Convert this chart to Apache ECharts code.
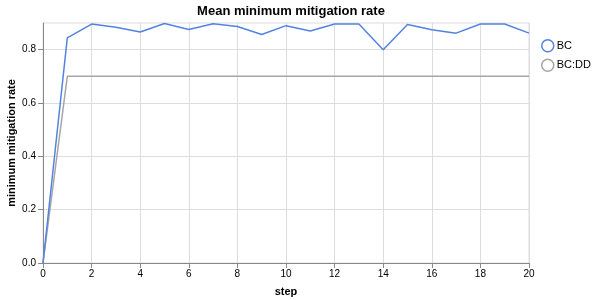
<!DOCTYPE html>
<html><head><meta charset="utf-8">
<script src="https://cdn.jsdelivr.net/npm/echarts@6/dist/echarts.min.js"></script>
<style>html,body{margin:0;padding:0;background:#fff}#c{width:600px;height:300px}</style>
</head><body><div id="c"></div>
<script>
const steps = [0,1,2,3,4,5,6,7,8,9,10,11,12,13,14,15,16,17,18,19,20];
const bc = [0.0,0.844,0.896,0.884,0.866,0.898,0.876,0.897,0.887,0.857,0.890,0.870,0.896,0.896,0.800,0.894,0.875,0.862,0.896,0.896,0.862];
const bcdd = [0.0,0.70,0.70,0.70,0.70,0.70,0.70,0.70,0.70,0.70,0.70,0.70,0.70,0.70,0.70,0.70,0.70,0.70,0.70,0.70,0.70];
const yTicks = [0,0.2,0.4,0.6,0.8];
const seriesNames = ['BC','BC:DD'];
const colors = ['#5383e0','#a6a6a6'];
const font = 'Liberation Sans, Arial, Helvetica, sans-serif';
const chart = echarts.init(document.getElementById('c'), null, {renderer:'canvas'});
chart.setOption({
  animation:false,
  title:{text:'Mean minimum mitigation rate', left:286, top:0, textAlign:'center',
    textStyle:{fontFamily:font, fontSize:13, fontWeight:'bold', color:'#000'}},
  legend:{orient:'vertical', left:536, top:34, itemGap:6, itemWidth:12, itemHeight:12,
    icon:'circle', data:seriesNames.map((n,i)=>({name:n, itemStyle:{color:'#fff', borderColor:colors[i], borderWidth:1.5}})),
    textStyle:{fontFamily:font, fontSize:11, color:'#000', padding:[0,0,0,-2]}},
  grid:{left:43, right:71, top:23, bottom:37, show:true, borderColor:'#ddd', borderWidth:1, outerBoundsMode:'none', containLabel:false},
  xAxis:{type:'value', min:0, max:20, interval:2,
    name:'step', nameLocation:'middle', nameGap:23, nameMoveOverlap:false,
    nameTextStyle:{fontFamily:font, fontSize:11, fontWeight:'bold', color:'#000'},
    axisLine:{lineStyle:{color:'#888'}}, axisTick:{length:5, lineStyle:{color:'#888'}},
    axisLabel:{fontFamily:font, fontSize:10, color:'#000', margin:6},
    splitLine:{lineStyle:{color:'#ddd'}}},
  yAxis:{type:'value', min:0, max:0.9,
    name:'minimum mitigation rate', nameLocation:'middle', nameGap:26, nameMoveOverlap:false,
    nameTextStyle:{fontFamily:font, fontSize:11, fontWeight:'bold', color:'#000'},
    axisLine:{show:true, lineStyle:{color:'#888'}},
    axisTick:{show:true, length:5, lineStyle:{color:'#888'}, customValues:yTicks},
    axisLabel:{fontFamily:font, fontSize:10, color:'#000', margin:7, customValues:yTicks,
      formatter:v=>v.toFixed(1)},
    splitLine:{lineStyle:{color:'#ddd'}}},
  series:[
    {name:seriesNames[0], type:'line', data:steps.map((s,i)=>[s,bc[i]]), showSymbol:false,
      lineStyle:{color:colors[0], width:1.5}, itemStyle:{color:colors[0]}, z:3},
    {name:seriesNames[1], type:'line', data:steps.map((s,i)=>[s,bcdd[i]]), showSymbol:false,
      lineStyle:{color:colors[1], width:1.5}, itemStyle:{color:colors[1]}, z:2}
  ]
});
</script></body></html>
